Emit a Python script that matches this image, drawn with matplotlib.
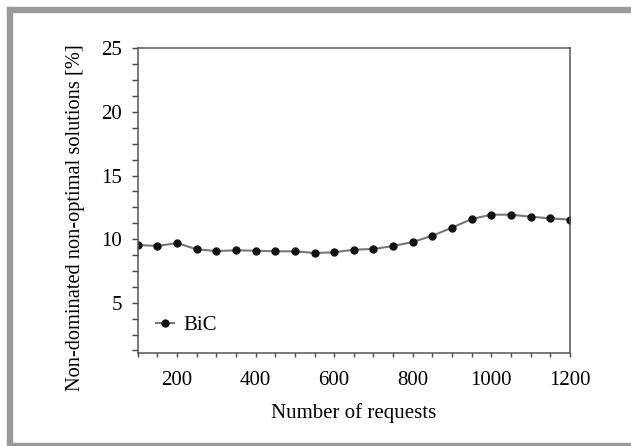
import matplotlib
matplotlib.use("Agg")
import matplotlib.pyplot as plt
from matplotlib.patches import Rectangle
from matplotlib.ticker import MultipleLocator

requests = [100, 150, 200, 250, 300, 350, 400, 450, 500, 550, 600, 650,
            700, 750, 800, 850, 900, 950, 1000, 1050, 1100, 1150, 1200]
bic = [9.54, 9.46, 9.69, 9.20, 9.06, 9.12, 9.09, 9.04, 9.04, 8.91, 8.96, 9.17,
       9.22, 9.46, 9.77, 10.27, 10.90, 11.58, 11.92, 11.92, 11.76, 11.63, 11.53]
series_name = "BiC"
xlabel = "Number of requests"
ylabel = "Non-dominated non-optimal solutions [%]"

plt.rcParams['font.family'] = ['Liberation Serif', 'DejaVu Serif']

fig = plt.figure(figsize=(6.31, 4.46), dpi=100)
ax = fig.add_axes([0.2182, 0.2092, 0.6851, 0.6825])

ax.plot(requests, bic, color='#777777', lw=1.5, marker='o', markersize=5.0,
        markerfacecolor='#111111', markeredgecolor='#111111', label=series_name)

ax.set_xlim(100, 1200)
ax.set_ylim(1.07, 25)
ax.xaxis.set_major_locator(MultipleLocator(200))
ax.xaxis.set_minor_locator(MultipleLocator(50))
ax.yaxis.set_major_locator(MultipleLocator(5))
ax.yaxis.set_minor_locator(MultipleLocator(1.25))

for s in ax.spines.values():
    s.set_color('#555555')
    s.set_linewidth(1.1)
ax.tick_params(which='both', direction='out', color='#444444', width=1.0,
               labelsize=15)
ax.tick_params(axis='x', which='both', length=3.2, pad=10.0)
ax.tick_params(axis='y', which='both', length=4.3, pad=7.0)

ax.set_xlabel(xlabel, fontsize=15, labelpad=9.5)
ax.set_ylabel(ylabel, fontsize=14.7)
ax.yaxis.set_label_coords(-0.122, 0.445)

leg = ax.legend(loc='center left', bbox_to_anchor=(0.042, 0.09), frameon=False,
                fontsize=15, handlelength=0.85, handletextpad=0.45,
                borderaxespad=0, borderpad=0)

border = '#9a9a9a'
W, H = 631, 446
fig.patches.append(Rectangle((7 / W, 0), 5 / W, 1 - 7 / H, transform=fig.transFigure,
                             color=border, zorder=0))
fig.patches.append(Rectangle((7 / W, 1 - 12 / H), 1, 5 / H, transform=fig.transFigure,
                             color=border, zorder=0))
fig.patches.append(Rectangle((7 / W, 0), 1, 3.5 / H, transform=fig.transFigure,
                             color=border, zorder=0))

fig.savefig("out.png", dpi=100)
